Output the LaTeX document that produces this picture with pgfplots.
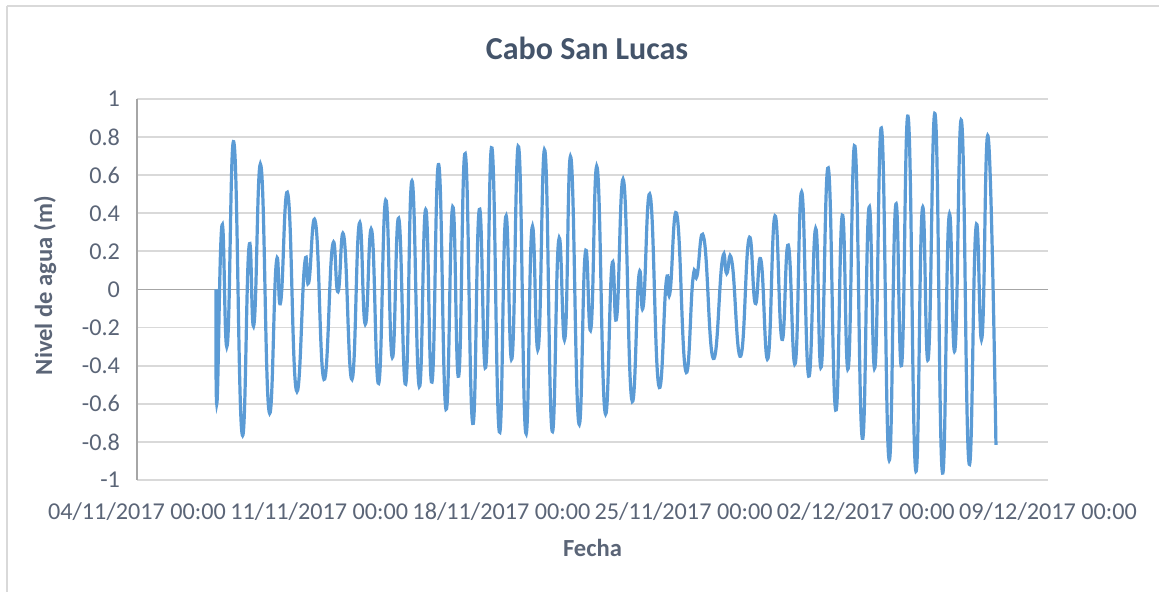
\documentclass[border=0pt]{standalone}
\usepackage{pgfplots}
\pgfplotsset{compat=1.18}
\usepackage{fontspec}
\setmainfont{Carlito}
\definecolor{linecol}{HTML}{5B9BD5}
\definecolor{gridcol}{HTML}{D9D9D9}
\definecolor{zerocol}{HTML}{A6A6A6}
\definecolor{txtcol}{HTML}{5B6577}
\definecolor{titlecol}{HTML}{44546A}
\pgfplotstableread{
d v
3.035 0
3.073 -0.594
3.265 0.337
3.469 -0.292
3.727 0.769
4.034 -0.755
4.303 0.224
4.495 -0.182
4.764 0.649
5.071 -0.638
5.352 0.140
5.521 -0.065
5.801 0.498
6.120 -0.528
6.443 0.136
6.596 0.035
6.865 0.346
7.184 -0.472
7.511 0.229
7.722 -0.012
7.952 0.276
8.260 -0.472
8.540 0.346
8.771 -0.182
9.017 0.311
9.286 -0.493
9.554 0.469
9.808 -0.357
10.054 0.374
10.323 -0.497
10.565 0.570
10.845 -0.510
11.091 0.420
11.333 -0.486
11.590 0.656
11.871 -0.629
12.128 0.434
12.359 -0.455
12.612 0.713
12.897 -0.703
13.150 0.420
13.396 -0.409
13.638 0.743
13.919 -0.747
14.164 0.381
14.406 -0.362
14.664 0.748
14.933 -0.752
15.175 0.323
15.417 -0.309
15.674 0.727
15.943 -0.738
16.201 0.259
16.443 -0.255
16.673 0.691
16.969 -0.698
17.223 0.192
17.441 -0.203
17.683 0.638
17.979 -0.642
18.248 0.128
18.429 -0.147
18.698 0.570
19.005 -0.575
19.285 0.075
19.451 -0.087
19.720 0.491
20.042 -0.502
20.334 0.044
20.476 -0.017
20.745 0.390
21.079 -0.427
21.360 0.058
21.513 0.070
21.783 0.267
22.140 -0.362
22.486 0.154
22.655 0.084
22.858 0.145
23.193 -0.350
23.511 0.267
23.753 -0.073
23.972 0.154
24.241 -0.362
24.510 0.386
24.779 -0.262
25.021 0.233
25.290 -0.388
25.536 0.512
25.805 -0.455
26.074 0.320
26.289 -0.406
26.558 0.638
26.842 -0.633
27.096 0.390
27.326 -0.414
27.583 0.752
27.864 -0.781
28.121 0.430
28.352 -0.409
28.609 0.841
28.890 -0.892
29.147 0.441
29.378 -0.393
29.631 0.902
29.915 -0.948
30.169 0.420
30.400 -0.362
30.669 0.914
30.938 -0.956
31.195 0.381
31.426 -0.315
31.683 0.879
31.963 -0.909
32.232 0.325
32.463 -0.253
32.705 0.797
33.000 -0.816
}\tide
\begin{document}
\begin{tikzpicture}
\path[use as bounding box] (-68.5pt,-56pt) rectangle (511pt,240pt);
\draw[gridcol, line width=1pt] (-65pt,237pt) -- (511pt,237pt);
\draw[gridcol, line width=1pt] (-65pt,237pt) -- (-65pt,-56pt);
\begin{axis}[
  scale only axis,
  width=455.5pt, height=190.5pt,
  xmin=0, xmax=35, ymin=-1, ymax=1,
  xtick={0,7,14,21,28,35},
  xticklabels={04/11/2017 00:00,11/11/2017 00:00,18/11/2017 00:00,25/11/2017 00:00,02/12/2017 00:00,09/12/2017 00:00},
  ytick={-1,-0.8,...,1.01},
  yticklabel style={/pgf/number format/fixed, /pgf/number format/precision=1, xshift=-5pt},
  /pgf/number format/assume math mode=true,
  major tick length=0pt,
  ymajorgrids,
  grid style={gridcol, line width=0.9pt},
  extra y ticks={0},
  extra y tick labels={},
  extra y tick style={grid style={zerocol, line width=0.9pt}},
  axis line style={draw=none},
  tick label style={font=\fontsize{12.1}{14}\selectfont, text=txtcol},
  xticklabel style={yshift=-8pt, font=\fontsize{12.1}{14}\selectfont},
  xlabel={\textbf{Fecha}},
  ylabel={\textbf{Nivel de agua (m)}},
  label style={font=\fontsize{12.3}{14}\selectfont, text=txtcol},
  xlabel style={at={(rel axis cs:0.5,0)}, anchor=center, yshift=-34pt},
  ylabel style={at={(rel axis cs:0,0.51)}, anchor=center, yshift=46pt},
  clip=false,
]
\draw[zerocol, line width=0.9pt] (rel axis cs:0,0) -- (rel axis cs:0,1);
\addplot[linecol, line width=1.6pt, smooth, tension=0.85] table[x=d, y=v] {\tide};
\node[font=\fontsize{16}{19}\selectfont\bfseries, text=titlecol] at (rel axis cs:0.494,1) [yshift=25.5pt] {Cabo San Lucas};
\end{axis}
\end{tikzpicture}
\end{document}
